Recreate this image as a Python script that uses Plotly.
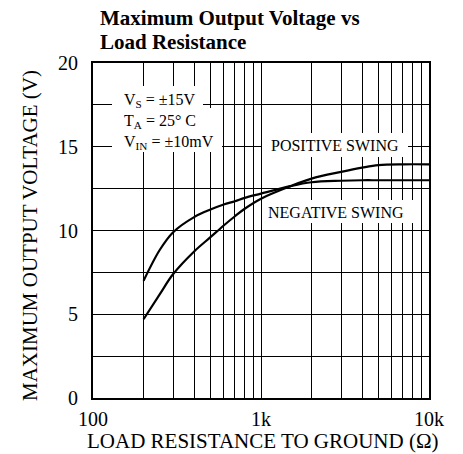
import plotly.graph_objects as go

# ---- data ----
resistance = [200, 250, 300, 400, 500, 600, 700, 800, 1000, 1500, 2000, 3000, 4000, 5000, 7000, 10000]
positive_swing = [4.7, 6.2, 7.4, 8.75, 9.6, 10.3, 10.85, 11.3, 11.9, 12.65, 13.1, 13.5, 13.75, 13.9, 13.95, 13.95]
negative_swing = [7.0, 8.85, 9.9, 10.8, 11.25, 11.55, 11.75, 11.95, 12.2, 12.65, 12.88, 12.97, 13.0, 13.0, 13.0, 13.0]

x_ticks = [100, 1000, 10000]
x_ticklabels = ["100", "1k", "10k"]
x_minor_grid = [200, 300, 400, 500, 600, 700, 800, 900,
                2000, 3000, 4000, 5000, 6000, 7000, 8000, 9000]
y_ticks = [0, 5, 10, 15, 20]
y_ticklabels = ["0", "5", "10", "15", "20"]
y_minor_grid = [2.5, 7.5, 12.5, 17.5]

title_lines = ["Maximum Output Voltage vs", "Load Resistance"]
x_title = "LOAD RESISTANCE TO GROUND (Ω)"
y_title = "MAXIMUM OUTPUT VOLTAGE (V)"
conditions = "V<sub>S</sub> = ±15V<br>T<sub>A</sub> = 25° C<br>V<sub>IN</sub> = ±10mV"

FONT = "Liberation Serif, Times New Roman, serif"
W, H = 463, 454
L, R, T, B = 93, 429, 63, 398  # plot area in pixels


def fx(px):
    return (px - L) / (R - L)


def fy(py):
    return (B - py) / (B - T)


fig = go.Figure()
for ys in (positive_swing, negative_swing):
    fig.add_trace(go.Scatter(x=resistance, y=ys, mode="lines",
                             line=dict(color="black", width=2.2, shape="spline", smoothing=1.0),
                             showlegend=False, hoverinfo="skip"))

# white boxes hiding the grid behind the texts
boxes = [(112, 86, 203, 152), (112, 108, 222, 152), (262, 133, 408, 157), (262, 200, 417, 223)]
for x0, y0, x1, y1 in boxes:
    fig.add_shape(type="rect", xref="paper", yref="paper",
                  x0=fx(x0), x1=fx(x1), y0=fy(y1), y1=fy(y0),
                  fillcolor="white", line=dict(width=0), layer="above")

ann = []
ann.append(dict(text="<b>%s</b>" % title_lines[0], x=fx(98), y=fy(18), xanchor="left", yanchor="middle",
                font=dict(size=21)))
ann.append(dict(text="<b>%s</b>" % title_lines[1], x=fx(98), y=fy(42), xanchor="left", yanchor="middle",
                font=dict(size=21)))
ann.append(dict(text=x_title, x=fx(262), y=fy(441), xanchor="center", yanchor="middle",
                font=dict(size=21)))
ann.append(dict(text=y_title, x=fx(30), y=fy(236), xanchor="center", yanchor="middle",
                textangle=-90, font=dict(size=21)))
ann.append(dict(text=conditions, x=fx(122), y=fy(121), xanchor="left", yanchor="middle",
                align="left", font=dict(size=16)))
ann.append(dict(text="POSITIVE SWING", x=fx(335), y=fy(145), xanchor="center", yanchor="middle",
                font=dict(size=16)))
ann.append(dict(text="NEGATIVE SWING", x=fx(336), y=fy(212), xanchor="center", yanchor="middle",
                font=dict(size=16)))
for a in ann:
    a.update(xref="paper", yref="paper", showarrow=False)
    a["font"].update(family=FONT, color="black")

fig.update_layout(
    width=W, height=H,
    margin=dict(l=L, r=W - R, t=T, b=H - B, pad=0),
    paper_bgcolor="white", plot_bgcolor="white",
    font=dict(family=FONT, color="black", size=20),
    annotations=ann,
    showlegend=False,
)
axis_common = dict(tickmode="array", showgrid=True, gridcolor="black", gridwidth=1.3,
                   showline=True, linecolor="black", linewidth=2, mirror=True,
                   ticks="", zeroline=False,
                   tickfont=dict(size=20, family=FONT, color="black"))
fig.update_xaxes(type="log", range=[2, 4], tickvals=x_ticks, ticktext=x_ticklabels,
                 minor=dict(tickmode="array", tickvals=x_minor_grid, showgrid=True,
                            gridcolor="black", gridwidth=1.3, ticks=""),
                 ticklabelstandoff=2, **axis_common)
fig.update_yaxes(range=[0, 20], tickvals=y_ticks, ticktext=y_ticklabels,
                 minor=dict(tickmode="array", tickvals=y_minor_grid, showgrid=True,
                            gridcolor="black", gridwidth=1.3, ticks=""),
                 ticklabelstandoff=9, **axis_common)

fig.write_html("out.html", config={"displayModeBar": False},
               post_script="document.body.style.margin='0px';")
